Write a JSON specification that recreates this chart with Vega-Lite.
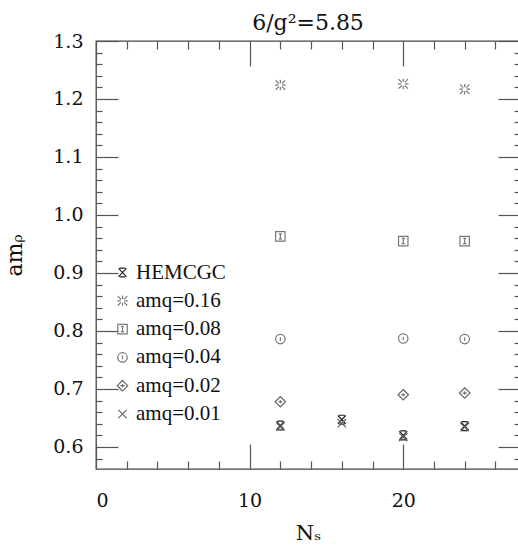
{
  "$schema": "https://vega.github.io/schema/vega-lite/v6.json",
  "autosize": {"type": "none"},
  "width": 424,
  "height": 428,
  "padding": {"left": 96, "top": 41, "right": 0, "bottom": 79},
  "background": "white",
  "config": {"view": {"stroke": "#444", "strokeWidth": 1.3}, "font": "DejaVu Serif", "title": {"font": "DejaVu Serif", "fontSize": 22, "fontWeight": "normal", "color": "#111"}},
  "title": {"text": "6/g²=5.85", "font": "DejaVu Serif", "fontSize": 22, "fontWeight": "normal", "color": "#111", "offset": -3, "anchor": "middle"},
  "data": {"values": [
    {"series": "HEMCGC", "Ns": 12, "amrho": 0.637},
    {"series": "HEMCGC", "Ns": 16, "amrho": 0.647},
    {"series": "HEMCGC", "Ns": 20, "amrho": 0.620},
    {"series": "HEMCGC", "Ns": 24, "amrho": 0.636},
    {"series": "amq=0.16", "Ns": 12, "amrho": 1.224},
    {"series": "amq=0.16", "Ns": 20, "amrho": 1.226},
    {"series": "amq=0.16", "Ns": 24, "amrho": 1.217},
    {"series": "amq=0.08", "Ns": 12, "amrho": 0.963},
    {"series": "amq=0.08", "Ns": 20, "amrho": 0.955},
    {"series": "amq=0.08", "Ns": 24, "amrho": 0.955},
    {"series": "amq=0.04", "Ns": 12, "amrho": 0.786},
    {"series": "amq=0.04", "Ns": 20, "amrho": 0.787},
    {"series": "amq=0.04", "Ns": 24, "amrho": 0.786},
    {"series": "amq=0.02", "Ns": 12, "amrho": 0.678},
    {"series": "amq=0.02", "Ns": 20, "amrho": 0.690},
    {"series": "amq=0.02", "Ns": 24, "amrho": 0.693},
    {"series": "amq=0.01", "Ns": 12, "amrho": 0.635},
    {"series": "amq=0.01", "Ns": 16, "amrho": 0.641},
    {"series": "amq=0.01", "Ns": 20, "amrho": 0.617},
    {"series": "amq=0.01", "Ns": 24, "amrho": 0.634}
  ]},
  "layer": [
    {
      "mark": {"type": "point", "filled": false, "size": 110, "strokeWidth": 1.2, "opacity": 1},
      "encoding": {
        "x": {"field": "Ns", "type": "quantitative", "scale": {"domain": [0, 27.6], "nice": false, "zero": false},
          "axis": {"orient": "bottom", "values": [0, 10, 20], "tickSize": -25, "tickColor": "#555", "tickWidth": 1.2, "domain": false, "grid": false,
            "labelFont": "DejaVu Serif", "labelFontSize": 19, "labelColor": "#111", "labelPadding": 47,
            "title": "Nₛ", "titleFont": "DejaVu Serif", "titleFontSize": 21, "titleFontWeight": "normal", "titleColor": "#111", "titlePadding": 12}},
        "y": {"field": "amrho", "type": "quantitative", "scale": {"domain": [0.562, 1.3], "nice": false, "zero": false},
          "axis": {"orient": "left", "values": [0.6, 0.7, 0.8, 0.9, 1.0, 1.1, 1.2, 1.3], "format": ".1f", "tickSize": -22, "tickColor": "#555", "tickWidth": 1.2, "domain": false, "grid": false,
            "labelFont": "DejaVu Serif", "labelFontSize": 19, "labelColor": "#111", "labelPadding": 35,
            "title": "amᵨ", "titleFont": "DejaVu Serif", "titleFontSize": 22, "titleFontWeight": "normal", "titleColor": "#111", "titlePadding": 26}},
        "shape": {"field": "series", "type": "nominal",
          "scale": {"domain": ["HEMCGC", "amq=0.16", "amq=0.08", "amq=0.04", "amq=0.02", "amq=0.01"],
            "range": [
              "M-0.75,-0.8L0.75,0.8M-0.75,0.8L0.75,-0.8M-0.55,-0.85L0.55,-0.85M-0.55,0.85L0.55,0.85",
              "M-0.9,-0.9L-0.3,-0.3M0.9,-0.9L0.3,-0.3M-0.9,0.9L-0.3,0.3M0.9,0.9L0.3,0.3M0,-1L0,-0.35M0,1L0,0.35M-1,0L-0.35,0M1,0L0.35,0",
              "M-0.9,-0.9L0.9,-0.9L0.9,0.9L-0.9,0.9ZM0,-0.5L0,0.5M-0.3,-0.5L0.3,-0.5M-0.3,0.5L0.3,0.5",
              "M0.9,0A0.9,0.9 0 1,1 -0.9,0A0.9,0.9 0 1,1 0.9,0ZM0,-0.35L0,0.35",
              "M0,-1L1,0L0,1L-1,0ZM-0.4,0L0.4,0M0,-0.3L0,0.3",
              "M-0.8,-0.8L0.8,0.8M-0.8,0.8L0.8,-0.8"
            ]},
          "legend": {"title": null, "orient": "none", "legendX": 16, "legendY": 221, "labelFont": "Liberation Serif", "labelFontSize": 21, "labelColor": "#111", "rowPadding": 6.3, "labelOffset": 3, "symbolStrokeWidth": 1.2, "symbolSize": 110}},
        "color": {"field": "series", "type": "nominal",
          "scale": {"domain": ["HEMCGC", "amq=0.16", "amq=0.08", "amq=0.04", "amq=0.02", "amq=0.01"],
            "range": ["#222222", "#777777", "#777777", "#777777", "#666666", "#666666"]},
          "legend": {"title": null, "orient": "none", "legendX": 16, "legendY": 221, "labelFont": "Liberation Serif", "labelFontSize": 21, "labelColor": "#111", "rowPadding": 6.3, "labelOffset": 3, "symbolStrokeWidth": 1.2, "symbolSize": 110}}
      }
    },
    {
      "mark": {"type": "point", "opacity": 0},
      "encoding": {
        "x": {"field": "Ns", "type": "quantitative",
          "axis": {"orient": "bottom", "values": [2, 4, 6, 8, 12, 14, 16, 18, 22, 24, 26], "tickSize": -8, "tickColor": "#555", "tickWidth": 1.2, "domain": false, "grid": false, "labels": false, "title": null}},
        "y": {"field": "amrho", "type": "quantitative",
          "axis": {"orient": "left", "values": [0.58, 0.62, 0.64, 0.66, 0.68, 0.72, 0.74, 0.76, 0.78, 0.82, 0.84, 0.86, 0.88, 0.92, 0.94, 0.96, 0.98, 1.02, 1.04, 1.06, 1.08, 1.12, 1.14, 1.16, 1.18, 1.22, 1.24, 1.26, 1.28], "tickSize": -6, "tickColor": "#555", "tickWidth": 1.2, "domain": false, "grid": false, "labels": false, "title": null}}
      }
    },
    {
      "mark": {"type": "point", "opacity": 0},
      "encoding": {
        "x": {"field": "Ns", "type": "quantitative",
          "axis": {"orient": "top", "values": [0, 10, 20], "tickSize": -25, "tickColor": "#555", "tickWidth": 1.2, "domain": false, "grid": false, "labels": false, "title": null}},
        "y": {"field": "amrho", "type": "quantitative",
          "axis": {"orient": "right", "values": [0.6, 0.7, 0.8, 0.9, 1.0, 1.1, 1.2, 1.3], "tickSize": -22, "tickColor": "#555", "tickWidth": 1.2, "domain": false, "grid": false, "labels": false, "title": null}}
      }
    },
    {
      "mark": {"type": "point", "opacity": 0},
      "encoding": {
        "x": {"field": "Ns", "type": "quantitative",
          "axis": {"orient": "top", "values": [2, 4, 6, 8, 12, 14, 16, 18, 22, 24, 26], "tickSize": -8, "tickColor": "#555", "tickWidth": 1.2, "domain": false, "grid": false, "labels": false, "title": null}},
        "y": {"field": "amrho", "type": "quantitative",
          "axis": {"orient": "right", "values": [0.58, 0.62, 0.64, 0.66, 0.68, 0.72, 0.74, 0.76, 0.78, 0.82, 0.84, 0.86, 0.88, 0.92, 0.94, 0.96, 0.98, 1.02, 1.04, 1.06, 1.08, 1.12, 1.14, 1.16, 1.18, 1.22, 1.24, 1.26, 1.28], "tickSize": -6, "tickColor": "#555", "tickWidth": 1.2, "domain": false, "grid": false, "labels": false, "title": null}}
      }
    }
  ],
  "resolve": {"axis": {"x": "independent", "y": "independent"}}
}
